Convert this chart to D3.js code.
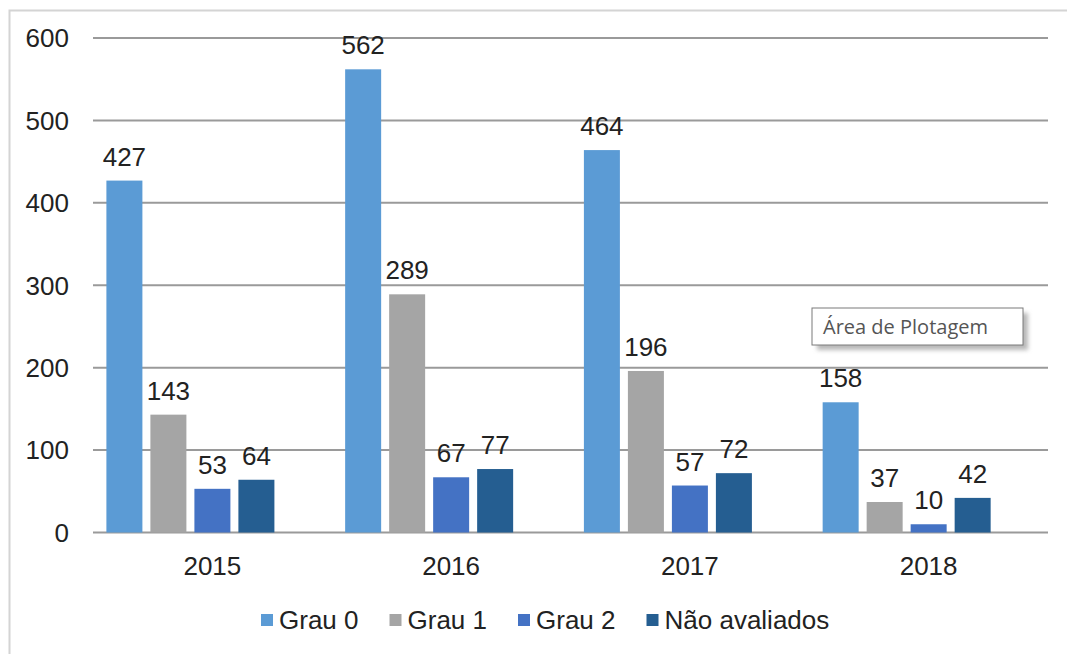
<!DOCTYPE html>
<html>
<head>
<meta charset="utf-8">
<script src="https://cdn.jsdelivr.net/npm/d3@7"></script>
<style>
  body { margin: 0; background: #fff; }
  text { font-family: "Liberation Sans", Arial, sans-serif; fill: #222; }
</style>
</head>
<body>
<svg class="chart" width="1067" height="654"></svg>
<script>
// data
let years = ['2015', '2016', '2017', '2018'];
let seriesNames = ['Grau 0', 'Grau 1', 'Grau 2', 'Não avaliados'];
let grau0 = [427, 562, 464, 158];
let grau1 = [143, 289, 196, 37];
let grau2 = [53, 67, 57, 10];
let naoAvaliados = [64, 77, 72, 42];
let yTicks = [0, 100, 200, 300, 400, 500, 600];
let colors = ['#5b9bd5', '#a5a5a5', '#4472c4', '#255e91'];

let seriesValues = [grau0, grau1, grau2, naoAvaliados];

let svg = d3.select('svg.chart');
let fontSize = '26px';

// plot area
let plotLeft = 93, plotRight = 1048, plotTop = 38, plotBottom = 532.5;

let x0 = d3.scaleBand().domain(years).range([plotLeft, plotRight]);
// Excel leaves an empty fifth slot in each group, so bars sit left of the label
let slots = seriesNames.concat(['']);
let x1 = d3.scaleBand()
           .domain(slots)
           .range([13.4, 13.4 + 5 * 44 - 8])
           .paddingInner(8 / 44);
let y = d3.scaleLinear().domain([0, 600]).range([plotBottom, plotTop]);

// outer frame (top and left visible)
svg.append('path')
   .attr('d', 'M9.5,654 V10.5 H1067')
   .style('fill', 'none')
   .style('stroke', '#d4d4d4')
   .style('stroke-width', 2);

// gridlines
svg.selectAll('line.grid')
   .data(yTicks)
   .enter()
   .append('line')
   .attr('class', 'grid')
   .attr('x1', plotLeft)
   .attr('x2', plotRight)
   .attr('y1', d => y(d))
   .attr('y2', d => y(d))
   .style('stroke', '#9a9a9a')
   .style('stroke-width', 2);

// y labels
svg.selectAll('text.ylab')
   .data(yTicks)
   .enter()
   .append('text')
   .attr('class', 'ylab')
   .attr('x', 69)
   .attr('y', d => y(d))
   .attr('dy', '0.36em')
   .attr('text-anchor', 'end')
   .style('font-size', fontSize)
   .text(d => d);

// bars
let flat = [];
years.forEach((yr, i) => {
  seriesNames.forEach((s, j) => {
    flat.push({ year: yr, series: s, value: seriesValues[j][i], color: colors[j] });
  });
});

svg.selectAll('rect.bar')
   .data(flat)
   .enter()
   .append('rect')
   .attr('class', 'bar')
   .attr('x', d => x0(d.year) + x1(d.series))
   .attr('width', x1.bandwidth())
   .attr('y', d => y(d.value))
   .attr('height', d => y(0) - y(d.value))
   .style('fill', d => d.color);

// value labels
svg.selectAll('text.val')
   .data(flat)
   .enter()
   .append('text')
   .attr('class', 'val')
   .attr('x', d => x0(d.year) + x1(d.series) + x1.bandwidth() / 2)
   .attr('y', d => y(d.value) - 15)
   .attr('text-anchor', 'middle')
   .style('font-size', fontSize)
   .text(d => d.value);

// x labels
svg.selectAll('text.xlab')
   .data(years)
   .enter()
   .append('text')
   .attr('class', 'xlab')
   .attr('x', d => x0(d) + x0.bandwidth() / 2)
   .attr('y', 575)
   .attr('text-anchor', 'middle')
   .style('font-size', fontSize)
   .text(d => d);

// legend
let legend = svg.append('g').attr('transform', 'translate(261, 620)');
let lx = 0;
seriesNames.forEach((s, j) => {
  let g = legend.append('g').attr('transform', `translate(${lx},0)`);
  g.append('rect')
   .attr('x', 0)
   .attr('y', -6)
   .attr('width', 12)
   .attr('height', 12)
   .style('fill', colors[j]);
  let t = g.append('text')
   .attr('x', 18)
   .attr('y', 0)
   .attr('dy', '0.36em')
   .style('font-size', fontSize)
   .text(s);
  lx += 18 + t.node().getComputedTextLength() + 31;
});

// "Área de Plotagem" tooltip
let tip = svg.append('g').attr('transform', 'translate(812, 308)');
tip.append('rect')
   .attr('x', 5).attr('y', 5)
   .attr('width', 211).attr('height', 37)
   .style('fill', '#b8b8b8')
   .style('filter', 'blur(2px)');
tip.append('rect')
   .attr('width', 211).attr('height', 37)
   .style('fill', '#fff')
   .style('stroke', '#7a7a7a')
   .style('stroke-width', 1);
tip.append('text')
   .attr('x', 11)
   .attr('y', 19)
   .attr('dy', '0.36em')
   .style('font-family', '"Open Sans", "Noto Sans", sans-serif')
   .style('font-size', '20px')
   .style('fill', '#555')
   .text('Área de Plotagem');
</script>
</body>
</html>
